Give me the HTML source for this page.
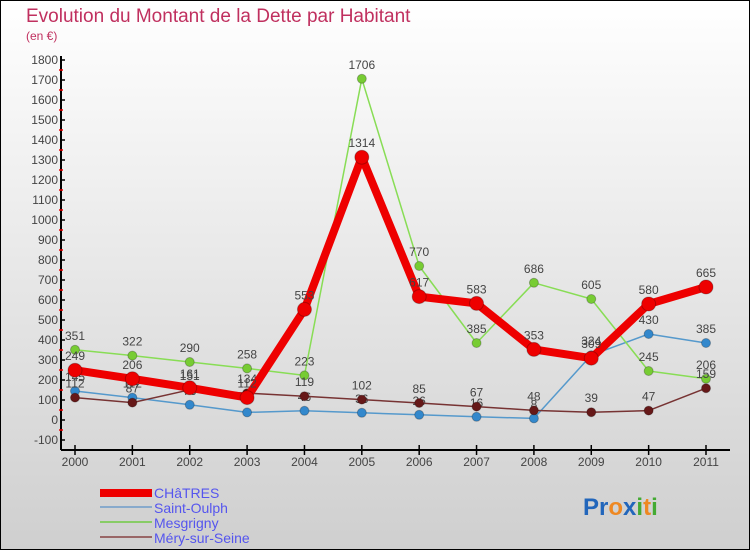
<!DOCTYPE html>
<html><head><meta charset="utf-8"><style>
html,body{margin:0;padding:0}
body{width:750px;height:550px;overflow:hidden;font-family:"Liberation Sans",sans-serif}
#wrap{position:relative;width:748px;height:548px;border:1px solid #000;background:linear-gradient(#ffffff,#cfcfcf)}
</style></head><body>
<div id="wrap">
<svg id="chart" width="748" height="548" viewBox="1 1 748 548" style="position:absolute;left:0;top:0">
<text x="26" y="22" font-size="19" fill="#c0305f">Evolution du Montant de la Dette par Habitant</text>
<text x="26" y="40" font-size="12" fill="#c0305f">(en €)</text>
<g id="axes"></g>
<g id="series"></g>
<g id="legend">
<rect x="100" y="489" width="52" height="8" fill="#ee0000"/>
<text x="154" y="498" font-size="14" fill="#5555ee">CHâTRES</text>
<rect x="100" y="506" width="52" height="2" fill="#88aacc"/>
<text x="154" y="513" font-size="14" fill="#5555ee">Saint-Oulph</text>
<rect x="100" y="521" width="52" height="2" fill="#88cc66"/>
<text x="154" y="528" font-size="14" fill="#5555ee">Mesgrigny</text>
<rect x="100" y="536" width="52" height="2" fill="#996666"/>
<text x="154" y="543" font-size="14" fill="#5555ee">Méry-sur-Seine</text>
</g>
<text x="583" y="515" font-size="24" font-weight="bold"><tspan fill="#2266bb">Pr</tspan><tspan fill="#ee8822">o</tspan><tspan fill="#2266bb">x</tspan><tspan fill="#44aa33">i</tspan><tspan fill="#ee8822">t</tspan><tspan fill="#44aa33">i</tspan></text>
</svg>
</div>
<script>
const years=["2000","2001","2002","2003","2004","2005","2006","2007","2008","2009","2010","2011"];
const yTicks=[-100,0,100,200,300,400,500,600,700,800,900,1000,1100,1200,1300,1400,1500,1600,1700,1800];
const chatres=[249,206,161,112,553,1314,617,583,353,309,580,665];
const saintOulph=[145,112,76,38,46,36,26,16,8,324,430,385];
const mesgrigny=[351,322,290,258,223,1706,770,385,686,605,245,206];
const mery=[112,87,151,134,119,102,85,67,48,39,47,159];

const NS="http://www.w3.org/2000/svg";
function xs(i){return 75+i*(706-75)/(years.length-1);}
function ys(v){return 420-v*0.2;}
function mk(tag,attrs,parent){const e=document.createElementNS(NS,tag);for(const k in attrs)e.setAttribute(k,attrs[k]);parent.appendChild(e);return e;}
const axes=document.getElementById('axes');
let yl=mk('line',{x1:61,y1:56,x2:61,y2:450,stroke:'#000','stroke-width':2},axes);


let xl=mk('line',{x1:61,y1:450,x2:730,y2:450,stroke:'#000','stroke-width':2},axes);


yTicks.forEach(v=>{
 const y=ys(v);
 mk('line',{x1:61,y1:y,x2:65,y2:y,stroke:'#000','stroke-width':1.5},axes);
 if(v<1800) mk('line',{x1:59,y1:y-10,x2:63,y2:y-10,stroke:'#e00','stroke-width':1.5},axes);
 const t=mk('text',{x:58,y:y+4,'font-size':12,fill:'#444','text-anchor':'end'},axes);
 t.textContent=v;
 
 
});
years.forEach((yr,i)=>{
 const x=xs(i);
 mk('line',{x1:x,y1:445,x2:x,y2:455,stroke:'#000','stroke-width':1.5},axes);
 const t=mk('text',{x:x,y:466,'font-size':12,fill:'#444','text-anchor':'middle'},axes);
 t.textContent=yr;
 
 
});
const sg=document.getElementById('series');
function draw(vals,name,color,dot,w,r){
 const g=mk('g',{},sg);
 
 
 const p=mk('polyline',{points:vals.map((v,i)=>xs(i)+','+ys(v)).join(' '),fill:'none',stroke:color,'stroke-width':w,'stroke-linejoin':'round'},g);
 
 
 vals.forEach((v,i)=>{
  const c=mk('circle',{cx:xs(i),cy:ys(v),r:r,fill:dot,stroke:'rgba(0,0,0,0.25)','stroke-width':1},g);
  
  
  const t=mk('text',{x:xs(i),y:ys(v)-10,'font-size':12,fill:'#444','text-anchor':'middle'},g);
  t.textContent=v;
  
  
 });
}
draw(saintOulph,'saint-oulph','#5599cc','#3388cc',1.5,4.5);
draw(mesgrigny,'mesgrigny','#88dd55','#77cc33',1.5,4.5);
draw(mery,'mery-sur-seine','#773333','#661818',1.5,4.5);
draw(chatres,'chatres','#ee0000','#ee0000',8,7);
</script>
</body></html>
